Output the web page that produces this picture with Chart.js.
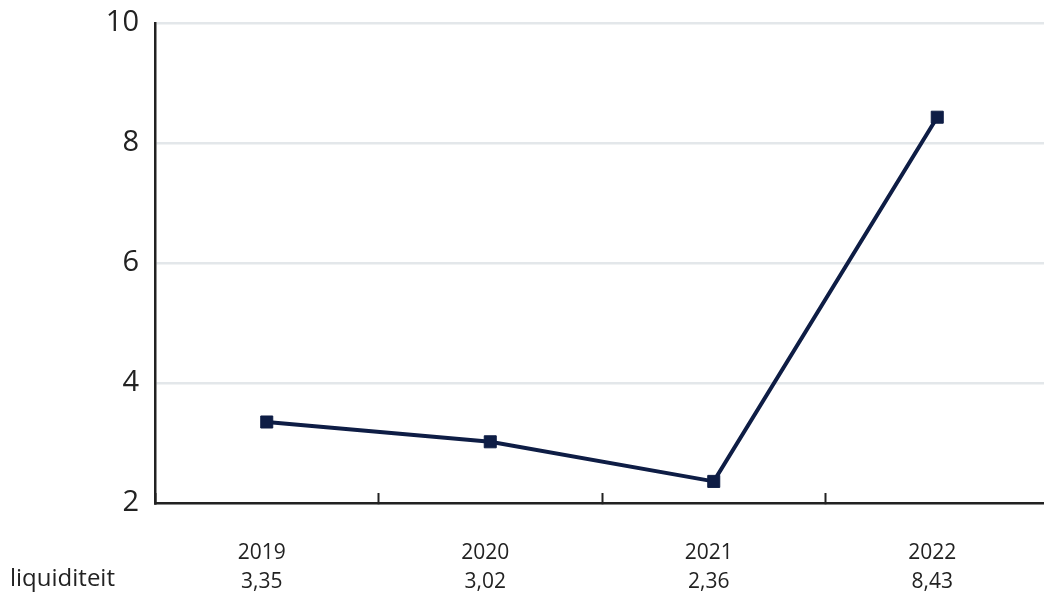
<!DOCTYPE html>
<html>
<head>
<meta charset="utf-8">
<script src="https://cdn.jsdelivr.net/npm/chart.js@4"></script>
<style>
  html, body { margin: 0; padding: 0; background: #fff; overflow: hidden; }
  #wrap { position: absolute; left: 0; top: 0; width: 1060px; height: 595px; }
</style>
</head>
<body>
<div id="wrap"><canvas id="c"></canvas></div>
<script>
const categories = ['2019', '2020', '2021', '2022'];
const valueLabels = ['3,35', '3,02', '2,36', '8,43'];
const liquiditeit = [3.35, 3.02, 2.36, 8.43];
const rowLabel = 'liquiditeit';
const yMin = 2, yMax = 10, yStep = 2;

const FONT = "'Open Sans', 'Noto Sans', sans-serif";
const TEXT = '#222222';
const NAVY = '#0e1d45';

const rowLabelPlugin = {
  id: 'rowLabel',
  afterDraw(chart) {
    const xs = chart.scales.x;
    const ctx = chart.ctx;
    ctx.save();
    ctx.font = '24px ' + FONT;
    ctx.fillStyle = TEXT;
    ctx.textAlign = 'left';
    ctx.textBaseline = 'alphabetic';
    ctx.fillText(rowLabel, 10, xs.top + 83);
    ctx.restore();
  }
};

new Chart(document.getElementById('c'), {
  type: 'line',
  data: {
    labels: categories.map((c, i) => [c, valueLabels[i]]),
    datasets: [{
      data: liquiditeit,
      borderColor: NAVY,
      backgroundColor: NAVY,
      borderWidth: 4,
      pointStyle: 'rect',
      pointRadius: 8.5,
      pointHoverRadius: 8.5,
      pointBorderWidth: 1,
      pointBorderColor: NAVY,
      pointBackgroundColor: NAVY,
      tension: 0
    }]
  },
  plugins: [rowLabelPlugin],
  options: {
    responsive: true,
    maintainAspectRatio: false,
    animation: false,
    layout: { padding: { left: 0, right: 11, top: 23, bottom: 0 } },
    plugins: { legend: { display: false }, tooltip: { enabled: false } },
    scales: {
      x: {
        offset: true,
        grid: {
          display: true,
          drawOnChartArea: false,
          drawTicks: true,
          tickLength: -10,
          tickWidth: 2,
          tickColor: TEXT,
          offset: true
        },
        border: { display: true, color: TEXT, width: 2.5 },
        ticks: {
          color: TEXT,
          font: { family: FONT, size: 21, lineHeight: 1.4 },
          padding: 45,
          maxRotation: 0,
          autoSkip: false,
          labelOffset: -5
        },
        afterFit(scale) { scale.height = 92; scale.paddingLeft = 0; scale.paddingRight = 0; }
      },
      y: {
        min: yMin,
        max: yMax,
        ticks: {
          stepSize: yStep,
          color: TEXT,
          font: { family: FONT, size: 29 },
          padding: 16
        },
        grid: {
          color: '#e3e7ea',
          lineWidth: 2.5,
          drawTicks: false
        },
        border: { display: true, color: TEXT, width: 2.5 },
        afterFit(scale) { scale.width = 155; scale.paddingTop = 0; scale.paddingBottom = 0; }
      }
    }
  }
});
</script>
</body>
</html>
